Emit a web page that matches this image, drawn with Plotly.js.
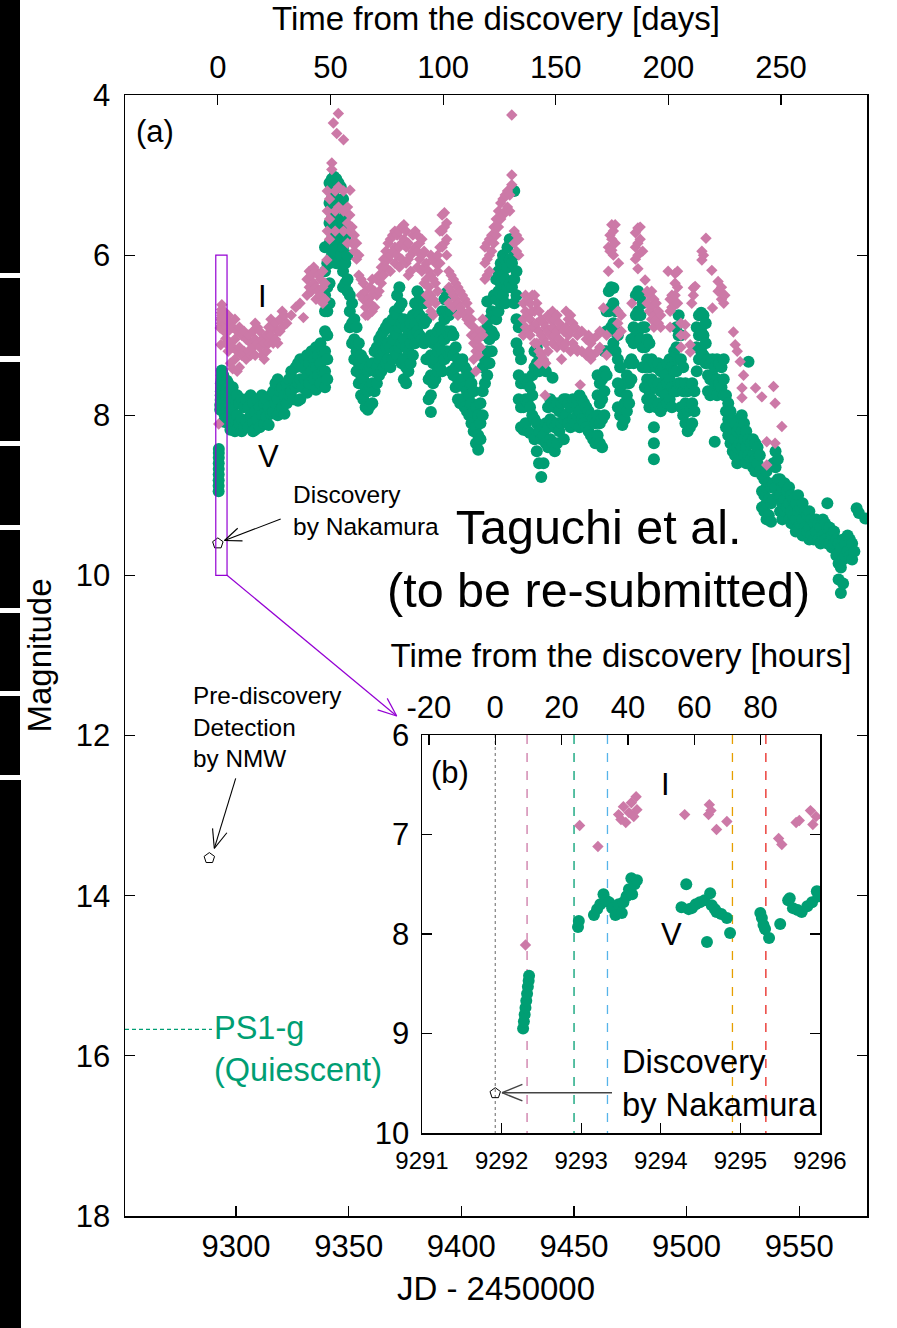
<!DOCTYPE html>
<html><head><meta charset="utf-8">
<script src="https://cdn.plot.ly/plotly-3.0.1.min.js"></script>
<style>html,body{margin:0;padding:0;background:#fff}#chart{width:897px;height:1328px}</style>
</head><body><div id="chart"></div>
<script>
// ---------------- data ----------------
const discoveryJD = 9291.92;           // JD-2450000 of the discovery
const discoveryMag = [9.6];
const nmwJD = [9288.14];
const nmwMag = [13.53];
const ps1gMag = 15.67;
const specJD = [9292.32, 9292.91, 9293.33, 9294.90, 9295.32];
const specColors = ['#CC79A7', '#009E73', '#56B4E9', '#E69F00', '#E8251F'];

const mainJDTicks = [9300, 9350, 9400, 9450, 9500, 9550];
const dayTicks = [0, 50, 100, 150, 200, 250];
const magTicks = [4, 6, 8, 10, 12, 14, 16, 18];
const insetJDTicks = [9291, 9292, 9293, 9294, 9295, 9296];
const hourTicks = [-20, 0, 20, 40, 60, 80];
const hourLabels = ['-20', '0', '20', '40', '60', '80'];
const insetMagTicks = [6, 7, 8, 9, 10];

// V band, fine sampling (first nights)
const vFineJD = [
 9292.27,9292.28,9292.29,9292.30,9292.31,9292.32,9292.33,9292.34,9292.345,9292.96,
 9292.97,9293.16,9293.20,9293.24,9293.28,9293.31,9293.35,9293.39,9293.43,9293.47,
 9293.51,9293.53,9293.57,9293.60,9293.63,9293.64,9293.67,9293.70,9294.26,9294.32,
 9294.35,9294.39,9294.44,9294.49,9294.55,9294.58,9294.62,9294.64,9294.68,9294.70,
 9294.76,9294.83,9294.87,9295.25,9295.27,9295.29,9295.31,9295.36,9295.50,9295.60,
 9295.62,9295.66,9295.72,9295.77,9295.84,9295.90,9295.96,9295.98];
const vFineMag = [
 8.95,8.88,8.81,8.74,8.67,8.60,8.53,8.47,8.42,7.93,
 7.87,7.81,7.75,7.70,7.60,7.66,7.68,7.74,7.81,7.70,
 7.79,7.68,7.62,7.55,7.44,7.60,7.50,7.46,7.73,7.50,
 7.75,7.74,7.70,7.68,7.66,8.08,7.59,7.71,7.75,7.78,
 7.80,7.84,7.99,7.79,7.84,7.91,7.95,8.04,7.90,7.66,
 7.64,7.74,7.76,7.78,7.72,7.68,7.57,7.62];

// V band, nightly
const vNightJD = [
 9296.5,9297.5,9298.5,9299.5,9300.5,9301.5,9302.5,9303.5,9304.5,9305.5,
 9306.5,9307.5,9308.5,9309.5,9310.5,9311.5,9312.5,9313.5,9314.5,9315.5,
 9316.5,9317.5,9318.5,9319.5,9320.5,9321.5,9322.5,9323.5,9324.5,9325.5,
 9326.5,9327.5,9328.5,9329.5,9330.5,9331.5,9332.5,9333.5,9334.5,9335.5,
 9336.5,9337.5,9338.5,9339.5,9340.5,9341.5,9342.5,9343.5,9344.5,9345.5,
 9346.5,9347.5,9348.5,9349.5,9350.5,9351.5,9352.5,9353.5,9354.5,9355.5,
 9356.5,9357.5,9358.5,9359.5,9360.5,9361.5,9362.5,9363.5,9364.5,9365.5,
 9366.5,9367.5,9368.5,9369.5,9370.5,9371.5,9372.5,9373.5,9374.5,9375.5,
 9376.5,9377.5,9378.5,9379.5,9380.5,9381.5,9382.5,9383.5,9384.5,9385.5,
 9386.5,9387.5,9388.5,9389.5,9390.5,9391.5,9392.5,9393.5,9394.5,9395.5,
 9396.5,9397.5,9398.5,9399.5,9400.5,9401.5,9402.5,9403.5,9404.5,9405.5,
 9406.5,9407.5,9408.5,9409.5,9410.5,9411.5,9412.5,9413.5,9414.5,9415.5,
 9416.5,9417.5,9418.5,9419.5,9420.5,9421.5,9422.5,9423.5,9424.5,9425.5,
 9426.5,9427.5,9428.5,9429.5,9430.5,9431.5,9432.5,9433.5,9434.5,9435.5,
 9436.5,9437.5,9438.5,9439.5,9440.5,9441.5,9442.5,9443.5,9444.5,9445.5,
 9446.5,9447.5,9448.5,9449.5,9450.5,9451.5,9452.5,9453.5,9454.5,9455.5,
 9456.5,9457.5,9458.5,9459.5,9460.5,9461.5,9462.5,9463.5,9464.5,9465.5,
 9466.5,9467.5,9468.5,9469.5,9470.5,9471.5,9472.5,9473.5,9474.5,9475.5,
 9476.5,9477.5,9478.5,9479.5,9480.5,9481.5,9482.5,9483.5,9484.5,9485.5,
 9486.5,9487.5,9488.5,9489.5,9490.5,9491.5,9492.5,9493.5,9494.5,9495.5,
 9496.5,9497.5,9498.5,9499.5,9500.5,9501.5,9502.5,9503.5,9504.5,9505.5,
 9506.5,9507.5,9508.5,9509.5,9510.5,9511.5,9512.5,9513.5,9514.5,9515.5,
 9516.5,9517.5,9518.5,9519.5,9520.5,9521.5,9522.5,9523.5,9524.5,9525.5,
 9526.5,9527.5,9528.5,9529.5,9530.5,9531.5,9532.5,9533.5,9534.5,9535.5,
 9536.5,9537.5,9538.5,9539.5,9540.5,9541.5,9542.5,9543.5,9544.5,9545.5,
 9546.5,9547.5,9548.5,9549.5,9550.5,9551.5,9552.5,9553.5,9554.5,9555.5,
 9556.5,9557.5,9558.5,9559.5,9560.5,9561.5,9562.5,9563.5,9564.5,9565.5,
 9566.5,9567.5,9568.5,9569.5,9570.5,9571.5,9572.5,9573.5,9574.5,9575.5,
 9576.5,9579.3];
const vNightMag = [
 [7.6,7.85,8.1],[7.7,7.95,8.18],[7.65,7.9,8.15],[7.8,8.05,8.2],[7.75,8.0,8.18],[7.85,8.1],[7.8,8.05,8.2],[7.9,8.15],[7.8,8.08],[7.9,8.15],
 [7.75,8.0],[7.85,8.1,8.2],[7.95,8.18],[7.8,8.05],[7.9,8.15],[7.75,8.0],[7.85,8.1],[7.8,8.02],[7.9,8.12],[7.75,7.98],
 [7.7,7.95],[7.6,7.85],[7.55,7.8,8.0],[7.7,7.95],[7.65,7.9],[7.75,7.98],[7.6,7.85],[7.55,7.75],[7.45,7.7],[7.55,7.8],
 [7.4,7.65],[7.35,7.6,7.82],[7.3,7.55,7.8],[7.4,7.65],[7.3,7.55],[7.25,7.5,7.72],[7.35,7.6],[7.2,7.45],[7.3,7.55],[7.15,7.4,7.68],
 [7.25,7.5],[7.1,7.35,7.6],[7.2,7.45],[5.9,6.2,6.5,6.7,6.95,7.2,7.45,7.65],[6.1,6.4,6.7,7.0,7.3,7.55],[5.1,5.35,5.6,5.85,6.1,6.35,6.6],[5.05,5.3,5.55,5.8,6.0],[5.02,5.2,5.45,5.7,5.95],[5.05,5.3,5.55,5.8,6.1],[5.1,5.35,5.6,5.85],
 [5.15,5.4,5.7,6.0],[5.3,5.6,5.9,6.2,6.4],[5.5,5.8,6.1,6.35],[5.7,6.0,6.3,6.45],[6.5,6.7,6.9],[6.6,6.85,7.1],[6.8,7.05,7.3],[6.9,7.2,7.45],[7.1,7.35,7.6],[7.25,7.5,7.75],
 [7.3,7.55,7.8],[7.4,7.65,7.9],[7.45,7.7,7.93],[7.4,7.65,7.88],[7.35,7.6,7.85],[7.2,7.45,7.7],[7.15,7.4,7.6],[7.05,7.3,7.5],[7.0,7.25,7.45],[6.95,7.2,7.4],
 [6.9,7.15,7.35],[6.85,7.1,7.3],[6.9,7.15,7.4],[6.8,7.05,7.3],[6.7,6.95,7.2],[6.5,6.75,7.0,7.25],[6.4,6.65,6.9,7.15],[6.6,6.85,7.1,7.35],[6.8,7.05,7.3,7.55],[6.9,7.15,7.4,7.6],
 [6.95,7.2,7.45],[6.85,7.1,7.35],[6.75,7.0,7.25],[6.6,6.85,7.1],[6.45,6.7,6.95],[6.5,6.75,7.0],[6.55,6.8,7.05],[6.6,6.85,7.1],[6.8,7.05,7.3],[7.05,7.3,7.55,7.8],
 [7.0,7.25,7.5,7.75,7.96],[7.1,7.35,7.6],[7.05,7.3,7.55],[6.95,7.2,7.45],[6.9,7.15,7.4],[6.7,6.95,7.2,7.45],[6.55,6.8,7.05,7.3],[6.47,6.7,6.95,7.2],[6.5,6.75,7.0,7.25],[6.7,6.95,7.2,7.45],
 [7.0,7.25,7.5],[7.15,7.4,7.65],[7.3,7.55,7.8],[7.35,7.6,7.85],[7.3,7.55,7.8],[7.4,7.65,7.9],[7.45,7.7,7.95],[7.5,7.75,8.0],[7.6,7.85,8.1],[7.7,7.95,8.2],
 [7.9,8.15,8.35],[8.0,8.25,8.43],[7.85,8.1,8.3],[7.4,7.7,8.0],[7.0,7.3,7.6],[6.58,6.9,7.2,7.5],[6.8,7.05,7.35],[6.7,6.95,7.2],[6.5,6.75,7.0],[6.3,6.55,6.8],
 [6.2,6.45,6.7],[6.1,6.35,6.6],[6.0,6.25,6.5],[6.05,6.3,6.6],[5.9,6.15,6.4],[5.8,6.05,6.35],[5.8,6.1,6.4],[5.2,6.0,6.3,6.6],[6.2,6.5,6.8,7.1],[6.9,7.2,7.5,7.8],
 [7.3,7.6,7.9,8.15],[7.6,7.9,8.18],[7.55,7.8,8.1],[7.6,7.85,8.2],[7.65,7.9,8.22],[7.5,7.75,8.0],[7.2,7.4,8.05,8.3],[7.15,7.35,8.1,8.45],[7.25,7.45,8.2,8.6],[7.3,8.3,8.77],
 [7.35,8.25,8.6],[7.45,8.1,8.35],[7.9,8.15,8.4],[7.8,8.05,8.3],[7.53,7.85,8.1,8.35],[7.9,8.15,8.45],[7.85,8.1,8.35],[7.95,8.2],[7.85,8.1],[7.8,8.05,8.3],
 [7.8,8.0],[7.85,8.1],[7.9,8.15],[7.8,8.05],[7.85,8.1],[7.8,8.0],[7.75,7.95,8.15],[7.8,8.05],[7.85,8.1],[7.9,8.15],
 [7.95,8.2],[8.0,8.25],[8.05,8.3],[8.1,8.35],[7.5,7.75,8.0,8.25],[7.6,7.85,8.1,8.35],[7.55,7.8,8.05,8.4],[7.2,7.45,7.7,8.0],[6.7,6.95,7.2,7.5],[6.45,6.7,6.95],
 [6.4,6.65,6.9],[6.41,6.6,6.85,7.1],[6.7,6.95,7.2],[7.0,7.3,7.6,7.9],[7.4,7.7,8.0],[8.12],[7.6,7.85,8.05],[7.5,7.75,7.95],[7.35,7.6,7.85],[7.05,7.3,7.55],
 [6.9,7.1,7.35],[6.5,6.75,7.0],[6.45,6.7,6.95],[6.5,6.75,7.05],[6.6,6.9,7.15,7.4],[6.9,7.15,7.4,7.65],[7.05,7.3,7.55,7.8],[7.1,7.4,7.7,7.9],[7.3,7.55,7.8],[7.35,7.6,7.85,8.15,8.35,8.55],
 [7.4,7.65,7.9],[7.35,7.6,7.85],[7.45,7.7,7.95],[7.4,7.65,7.9],[7.5,7.75],[7.35,7.6,7.85],[7.3,7.55,7.8],[7.4,7.65,7.9],[7.2,7.45,7.7],[6.9,7.15,7.45,7.7],
 [6.75,7.0,7.3,7.6],[7.0,7.3,7.6,7.9],[7.4,7.7,8.0],[7.6,7.85,8.1],[7.7,7.95,8.2],[7.65,7.9,8.15],[7.6,7.85,8.1],[7.7,7.95],[6.9,7.15,7.45],[6.75,7.0,7.3],
 [6.72,6.95,7.2],[6.75,7.0,7.25],[6.85,7.1,7.35],[7.3,7.5,7.7],[7.35,7.55,7.75],[7.3,7.5,7.7],[7.4,7.6,8.33],[7.3,7.55,7.75],[7.35,7.6],[7.4,7.65],
 [7.3,7.55,7.75],[7.75,7.95,8.15],[7.85,8.05,8.25],[7.95,8.15,8.35],[8.05,8.25,8.45],[8.1,8.3,8.5],[8.2,8.4,8.6],[8.15,8.35,8.55],[8.0,8.2,8.4],[8.1,8.3,8.5],
 [8.2,8.4,8.6],[7.33,8.3,8.5],[8.35,8.55],[8.3,8.5,8.65],[8.35,8.55,8.7],[8.4,8.6],[8.5,8.7],[8.75,8.95,9.15],[8.8,9.0,9.2],[8.7,8.9,9.1,9.3],
 [8.85,9.05,9.25],[8.9,9.1,9.33],[8.6,8.85,9.05],[8.45,8.65,8.9],[8.55,8.8,9.0],[8.8,9.0,9.2],[8.9,9.1,9.3],[8.85,9.05,9.2],[8.95,9.15],[8.9,9.1,9.3],
 [9.0,9.2,9.35],[9.05,9.25],[9.1,9.3,9.45],[9.0,9.2,9.4],[9.15,9.35],[9.1,9.3,9.5],[9.2,9.4],[9.25,9.45],[9.2,9.4,9.55],[9.3,9.5],
 [9.35,9.55],[9.3,9.45],[9.35,9.55],[9.4,9.6],[9.3,9.5],[9.35,9.55],[9.1,9.4,9.6],[9.4,9.6],[9.5,9.65],[9.45,9.6],
 [9.55,9.75],[9.6,9.85,10.05],[9.65,9.9,10.22],[9.55,9.8,10.1],[9.6,9.75],[9.5,9.7],[9.55,9.75],[9.6,9.8],[9.7],[9.16],
 [9.22],[9.29]];

// I band, fine sampling
const iFineJD = [
 9292.30,9292.98,9293.21,9293.47,9293.50,9293.53,9293.56,9293.60,9293.63,9293.66,
 9293.69,9293.70,9294.30,9294.60,9294.61,9294.63,9294.70,9294.83,9295.48,9295.52,
 9295.70,9295.74,9295.88,9295.91,9295.95];
const iFineMag = [
 8.11,6.91,7.12,6.80,6.85,6.72,6.88,6.78,6.68,6.82,
 6.62,6.75,6.80,6.80,6.70,6.76,6.95,6.87,7.04,7.10,
 6.88,6.86,6.76,6.90,6.82];

// I band, nightly
const iNightJD = [
 9296.5,9297.5,9298.5,9299.5,9300.5,9301.5,9302.5,9303.5,9304.5,9305.5,
 9306.5,9307.5,9308.5,9309.5,9310.5,9311.5,9312.5,9313.5,9314.5,9315.5,
 9316.5,9317.5,9318.5,9319.5,9320.5,9321.5,9322.5,9324.5,9326.5,9328.4,
 9329.9,9331.5,9332.5,9333.5,9334.5,9335.5,9336.5,9337.5,9338.5,9339.5,
 9340.3,9340.5,9341.5,9342.5,9343.2,9344.0,9344.7,9345.4,9345.5,9347.7,
 9349.5,9350.5,9350.6,9351.5,9352.5,9353.5,9354.5,9355.5,9356.5,9357.5,
 9358.5,9359.5,9360.5,9361.5,9362.5,9363.5,9364.5,9365.5,9366.5,9367.5,
 9368.5,9369.5,9370.5,9371.5,9372.5,9373.5,9374.5,9375.5,9376.5,9377.5,
 9378.5,9379.5,9380.5,9381.5,9382.5,9383.5,9384.5,9385.5,9386.5,9387.5,
 9388.5,9389.5,9390.5,9391.5,9392.5,9393.5,9394.5,9395.5,9396.5,9397.5,
 9398.5,9399.5,9400.5,9401.5,9402.5,9403.5,9404.5,9405.5,9406.5,9407.5,
 9408.5,9409.5,9410.5,9411.5,9412.5,9413.5,9414.5,9415.5,9416.5,9417.5,
 9418.5,9419.5,9420.5,9421.5,9422.4,9423.5,9424.5,9425.5,9427.5,9428.5,
 9429.5,9430.5,9431.5,9432.5,9433.5,9434.5,9435.5,9436.5,9437.2,9437.5,
 9438.5,9439.5,9440.5,9441.5,9442.5,9443.5,9444.5,9445.5,9446.5,9447.5,
 9448.5,9449.5,9450.5,9451.5,9452.8,9453.5,9455.5,9456.5,9457.5,9458.5,
 9460.5,9461.5,9463.1,9464.5,9465.3,9466.0,9466.8,9467.5,9468.3,9469.5,
 9469.8,9471.0,9475.7,9477.3,9478.4,9479.4,9480.5,9481.6,9482.5,9483.5,
 9484.5,9485.5,9486.5,9487.5,9488.5,9491.8,9492.7,9493.5,9494.9,9496.0,
 9497.5,9499.4,9501.6,9502.3,9503.0,9503.8,9506.8,9507.5,9508.6,9511.2,
 9511.5,9514.0,9515.5,9516.5,9517.0,9520.8,9521.6,9522.5,9523.8,9524.6,
 9525.3,9530.6,9533.4,9535.6,9538.6,9539.3,9542.3];
const iNightMag = [
 [6.75,6.95,7.2],[6.85,7.1,7.35],[6.9,7.15,7.42],[6.8,7.05,7.3],[6.95,7.2,7.45],[6.9,7.15,7.4],[7.0,7.25],[6.95,7.2],[7.05,7.3],[7.0,7.2],
 [7.1,7.25],[6.95,7.15],[6.85,7.05,7.25],[6.9,7.1],[6.95,7.15],[7.05,7.25],[7.1,7.3],[7.0,7.2],[6.9,7.1],[6.8,7.0],
 [6.9,7.1],[6.85,7.05],[6.95,7.1],[6.8,6.95],[6.7,6.9],[6.75],[6.85],[6.75],[6.65],[6.6],
 [6.78],[6.3,6.5],[6.2,6.4],[6.25,6.45],[6.15,6.35],[6.2,6.4,6.55],[6.25,6.45],[6.3,6.5],[6.2,6.4,6.6],[6.35,6.55],
 [6.06],[5.2,5.45,5.7],[5.3,5.55,5.8],[4.85,4.93],[4.35],[5.2,5.45,5.7],[4.48],[4.23],[5.15,5.4],[4.56,5.2,5.45,5.7],
 [5.4,5.6,5.85],[5.5,5.7],[5.19],[5.65,5.85],[5.75,5.95],[5.85,6.05],[6.0,6.25],[6.3,6.5],[6.35,6.55],[6.45,6.65,6.75],
 [6.55,6.75],[6.4,6.6],[6.3,6.5,6.7],[6.45,6.65],[6.3,6.5],[6.25,6.45],[6.15,6.35],[6.05,6.25],[5.95,6.15],[5.85,6.05],
 [5.8,6.0,6.2],[5.75,5.95],[5.7,5.9,6.1],[5.75,6.0],[5.7,5.9,6.15],[5.65,5.85,6.05],[5.62,5.8],[5.7,5.9,6.1],[5.85,6.05,6.25],[6.0,6.2],
 [5.75,5.95],[5.7,5.9],[5.75,5.95,6.15],[5.85,6.05],[5.8,6.0,6.2],[5.95,6.15,6.35],[6.1,6.3,6.5],[6.2,6.4,6.6],[6.0,6.25,6.5,6.7],[6.05,6.3,6.55,6.75],
 [6.1,6.35,6.6],[6.0,6.2,6.45],[5.7,5.9,6.1],[5.5,5.7,5.9],[5.47,5.65,5.85],[5.6,5.8,6.0],[6.2,6.4,6.6],[6.25,6.45],[6.3,6.5,6.65],[6.35,6.55],
 [6.4,6.6,6.75],[6.45,6.65],[6.5,6.7],[6.55,6.75],[6.6,6.8],[6.7,6.85],[6.8,7.0],[6.9,7.1,7.3],[7.0,7.2,7.45],[7.05,7.25],
 [6.95,7.15],[6.8,7.0],[5.9,6.1,6.3],[5.85,6.05,6.25],[5.8,6.0,6.2],[5.75,5.95],[5.65,5.85],[5.55,5.75],[5.45,5.65],[5.35,5.55],
 [5.3,5.5],[5.25,5.45],[5.2,5.4],[5.25,5.45],[4.25,5.0,5.12],[5.7,5.85],[5.75,5.95],[5.8,6.0],[6.6,6.8,7.0],[6.5,6.7,6.9],
 [6.55,6.75,6.95],[6.6,6.8,7.0],[6.5,6.7,6.9],[6.5,6.7,6.9,7.1],[6.6,6.85,7.1],[6.7,6.95,7.2,7.35],[6.8,7.0,7.25],[6.85,7.05,7.3],[7.75],[6.9,7.1,7.35],
 [6.75,6.95,7.2],[6.8,7.0],[6.7,6.9,7.1],[6.8,7.0],[6.75,6.95,7.15],[6.85,7.05],[6.9,7.1,7.3],[6.95,7.15],[6.7,6.9,7.1],[6.8,7.0],
 [6.75,6.95,7.2],[6.85,7.1],[6.9,7.15],[7.0,7.2],[7.62],[6.95,7.2],[7.05,7.25],[7.0,7.2],[7.1,7.3],[7.05,7.25],
 [7.0,7.2],[6.95,7.15],[6.66],[7.0,7.25],[5.9,6.2],[5.75,5.95],[5.62,5.8,5.94],[5.7,6.0],[5.62,5.85],[6.7,6.85,7.0],
 [6.1],[6.75,6.95],[6.6],[5.72,5.9,6.05],[5.66,5.85,6.0,6.17],[5.65,5.8],[5.95],[6.31],[6.45,6.6],[6.5,6.7],
 [6.45,6.65,6.8],[6.55,6.75,6.9],[6.6,6.8],[6.7,6.85],[6.75,6.9],[6.2],[6.55,6.7,6.9],[6.5,6.65],[6.23,6.35,6.5,6.62],[6.2,6.4,6.6],
 [6.85,7.0,7.15],[6.87,7.0],[7.12,7.21],[6.6],[6.41,6.5],[6.39],[5.95,6.06],[6.0],[5.79],[6.19],
 [6.66],[6.33,6.45],[6.4,6.55],[6.5,6.6],[6.5],[6.96],[7.12],[7.2],[7.33],[7.66,7.78],
 [7.5],[7.66],[7.77],[8.33,8.62],[7.64],[7.85,8.35],[8.14]];

// ---------------- build ----------------
function series(fineJD, fineMag, nightJD, nightMag) {
  if (fineJD.length !== fineMag.length || nightJD.length !== nightMag.length)
    throw new Error('length mismatch ' + fineJD.length + '/' + fineMag.length + ' ' + nightJD.length + '/' + nightMag.length);
  const x = fineJD.slice(), y = fineMag.slice();
  nightJD.forEach((d, i) => nightMag[i].forEach(m => { x.push(d); y.push(m); }));
  return {x, y};
}
const V = series(vFineJD, vFineMag, vNightJD, vNightMag);
const I = series(iFineJD, iFineMag, iNightJD, iNightMag);

const FONT = 'Liberation Sans, Arial, Helvetica, sans-serif';
const W = 897, H = 1328, ML = 125, MR = 30, MT = 95, MB = 112;
const PW = W - ML - MR, PH = H - MT - MB;
const px = x => (x - ML) / PW;
const py = y => (H - MB - y) / PH;

const mainRange = [9250.7, 9580.1];
const insetRange = [9291, 9296];
const GREEN = '#009E73', PINK = '#CC79A7';

const vMarker = {symbol: 'circle', size: 12, color: GREEN};
const iMarker = {symbol: 'diamond', size: 8.8, color: PINK};
const pentMarker = {symbol: 'pentagon-open', size: 11, color: '#000', line: {width: 1, color: '#000'}};

const traces = [
  {x: V.x, y: V.y, xaxis: 'x', yaxis: 'y', type: 'scatter', mode: 'markers', marker: vMarker, name: 'V', hoverinfo: 'x+y'},
  {x: I.x, y: I.y, xaxis: 'x', yaxis: 'y', type: 'scatter', mode: 'markers', marker: iMarker, name: 'I', hoverinfo: 'x+y'},
  {x: [0], y: discoveryMag, xaxis: 'x2', yaxis: 'y', type: 'scatter', mode: 'markers', marker: pentMarker, name: 'Discovery'},
  {x: nmwJD, y: nmwMag, xaxis: 'x', yaxis: 'y', type: 'scatter', mode: 'markers', marker: pentMarker, name: 'NMW'},
  {x: V.x, y: V.y, xaxis: 'x3', yaxis: 'y2', type: 'scatter', mode: 'markers', marker: vMarker, name: 'V (b)'},
  {x: I.x, y: I.y, xaxis: 'x3', yaxis: 'y2', type: 'scatter', mode: 'markers', marker: iMarker, name: 'I (b)'},
  {x: [0], y: discoveryMag, xaxis: 'x4', yaxis: 'y2', type: 'scatter', mode: 'markers', marker: pentMarker, name: 'Discovery (b)'}
];

// ---------------- shapes ----------------
const shapes = [];
function seg(x1, y1, x2, y2, color, width) {
  shapes.push({type: 'line', xref: 'paper', yref: 'paper', x0: px(x1), y0: py(y1), x1: px(x2), y1: py(y2),
               line: {color: color, width: width}});
}
function arrow(x1, y1, x2, y2, color, width, len) {
  seg(x1, y1, x2, y2, color, width);
  const dx = x2 - x1, dy = y2 - y1, n = Math.hypot(dx, dy), ux = dx / n, uy = dy / n;
  const a = 22 * Math.PI / 180, c = Math.cos(a), s = Math.sin(a);
  seg(x2 - len * (ux * c - uy * s), y2 - len * (uy * c + ux * s), x2, y2, color, width);
  seg(x2 - len * (ux * c + uy * s), y2 - len * (uy * c - ux * s), x2, y2, color, width);
}
// zoom box on panel (a)
shapes.push({type: 'rect', xref: 'x', yref: 'y', x0: insetRange[0], x1: insetRange[1], y0: 6, y1: 10,
             line: {color: '#9400D3', width: 1.2}, fillcolor: 'rgba(0,0,0,0)'});
arrow(226.7, 575, 396.7, 716, '#9400D3', 1.2, 20);
// PS1-g quiescent level
shapes.push({type: 'line', xref: 'x', yref: 'y', x0: mainRange[0], x1: 9289.3, y0: ps1gMag, y1: ps1gMag,
             line: {color: GREEN, width: 1.2, dash: '4px,3px'}});
// annotation arrows
arrow(280.7, 519, 224.5, 540.5, '#000', 1.1, 18);
arrow(235.7, 778.3, 214.3, 848.3, '#000', 1.1, 20);
arrow(612, 1092.7, 502, 1092.7, '#444', 1.4, 22);
// vertical lines in panel (b)
specJD.forEach((d, k) => shapes.push({type: 'line', xref: 'x3', yref: 'y2', x0: d, x1: d, y0: 6, y1: 10, layer: 'below',
             line: {color: specColors[k], width: 1.3, dash: 'dash'}}));
shapes.push({type: 'line', xref: 'x4', yref: 'y2', x0: 0, x1: 0, y0: 6, y1: 10, layer: 'below',
             line: {color: '#666', width: 1, dash: 'dot'}});
// black strip on the left border
[[0, 273, 20], [278, 356, 20], [362, 441, 20], [446, 525, 20], [530, 608, 20], [613, 691, 20], [696, 775, 20], [780, 1328, 21]]
  .forEach(b => shapes.push({type: 'rect', xref: 'paper', yref: 'paper', x0: px(0), x1: px(b[2]), y0: py(b[1]), y1: py(b[0]),
                             fillcolor: '#000', line: {width: 0}}));

// ---------------- annotations ----------------
function txt(text, x, y, size, opts) {
  return Object.assign({text: text, xref: 'paper', yref: 'paper', x: px(x), y: py(y), showarrow: false,
    xanchor: 'center', yanchor: 'middle', font: {family: FONT, size: size, color: '#000'}}, opts || {});
}
const annotations = [
  txt('(a)', 155, 132, 31),
  txt('I', 262, 296, 31),
  txt('V', 268, 456, 31),
  txt('Discovery<br>by Nakamura', 291, 510, 24.5, {xanchor: 'left', align: 'left'}),
  txt('Taguchi et al.<br>(to be re-submitted)', 598, 558, 48.5),
  txt('Pre-discovery<br>Detection<br>by NMW', 191, 727, 24.3, {xanchor: 'left', align: 'left'}),
  txt('PS1-g<br>(Quiescent)', 212, 1049, 32.5, {xanchor: 'left', align: 'left', font: {family: FONT, size: 32.5, color: GREEN}}),
  txt('(b)', 450, 773, 31),
  txt('I', 665, 785, 31),
  txt('V', 671, 935, 31),
  txt('Discovery<br>by Nakamura', 620, 1083, 32.7, {xanchor: 'left', align: 'left'})
];

// ---------------- layout ----------------
const TICK = 31, TITLE = 33;
const axBase = {ticks: 'inside', ticklen: 10, tickwidth: 1.2, tickcolor: '#000', showgrid: false, zeroline: false,
  showline: true, linecolor: '#000', linewidth: 1.5, color: '#000', tickfont: {family: FONT, size: TICK, color: '#000'}};
const insetDom = {x: [px(422), px(820)], y: [py(1133), py(735)]};

const layout = {
  width: W, height: H, margin: {l: ML, r: MR, t: MT, b: MB}, showlegend: false,
  paper_bgcolor: '#fff', plot_bgcolor: '#fff', font: {family: FONT, size: TICK, color: '#000'},
  xaxis: Object.assign({}, axBase, {domain: [0, 1], anchor: 'y', range: mainRange, tickvals: mainJDTicks, mirror: true,
    ticklabelstandoff: 2, title: {text: 'JD - 2450000', font: {family: FONT, size: TITLE}, standoff: 14}}),
  xaxis2: Object.assign({}, axBase, {overlaying: 'x', side: 'top', anchor: 'y', showline: false,
    range: [mainRange[0] - discoveryJD, mainRange[1] - discoveryJD], tickvals: dayTicks, ticklabelstandoff: 10,
    title: {text: 'Time from the discovery [days]', font: {family: FONT, size: TITLE}, standoff: 14}}),
  yaxis: Object.assign({}, axBase, {domain: [0, 1], anchor: 'x', range: [18, 4], tickvals: magTicks, mirror: 'ticks',
    ticklabelstandoff: 7, title: {text: 'Magnitude', font: {family: FONT, size: TITLE}, standoff: 14}}),
  xaxis3: Object.assign({}, axBase, {domain: insetDom.x, anchor: 'y2', range: insetRange, tickvals: insetJDTicks, mirror: true,
    ticklabelstandoff: 6, tickfont: {family: FONT, size: 24, color: '#000'}}),
  xaxis4: Object.assign({}, axBase, {overlaying: 'x3', side: 'top', anchor: 'y2', showline: false,
    range: [(insetRange[0] - discoveryJD) * 24, (insetRange[1] - discoveryJD) * 24], tickvals: hourTicks, ticktext: hourLabels,
    ticklabelstandoff: 10, title: {text: 'Time from the discovery [hours]', font: {family: FONT, size: TITLE}, standoff: 12}}),
  yaxis2: Object.assign({}, axBase, {domain: insetDom.y, anchor: 'x3', range: [10, 6], tickvals: insetMagTicks, mirror: 'ticks',
    ticklabelstandoff: 5}),
  shapes: shapes, annotations: annotations
};

Plotly.newPlot('chart', traces, layout, {displayModeBar: false, staticPlot: true});
</script></body></html>
